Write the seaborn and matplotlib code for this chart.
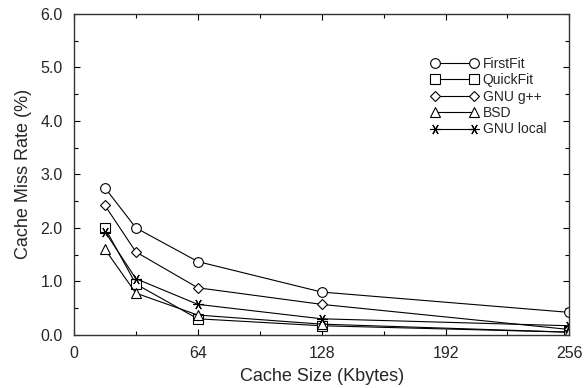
import matplotlib
matplotlib.use("Agg")
import matplotlib.pyplot as plt
import seaborn as sns
import pandas as pd
from matplotlib.ticker import MultipleLocator

cache_sizes = [16, 32, 64, 128, 256]
series_names = ["FirstFit", "QuickFit", "GNU g++", "BSD", "GNU local"]
firstfit = [2.75, 2.00, 1.37, 0.80, 0.42]
quickfit = [2.00, 0.95, 0.30, 0.17, 0.05]
gnu_gpp = [2.42, 1.55, 0.88, 0.57, 0.10]
bsd = [1.60, 0.78, 0.37, 0.20, 0.05]
gnu_local = [1.93, 1.05, 0.57, 0.30, 0.17]
x_ticks = [0, 64, 128, 192, 256]
y_ticks = [0.0, 1.0, 2.0, 3.0, 4.0, 5.0, 6.0]

values = [firstfit, quickfit, gnu_gpp, bsd, gnu_local]
markers = ["o", "s", "D", "^", (6, 2, 90)]
msizes = [7, 6.5, 5.5, 7, 7.5]

rows = []
for name, vals in zip(series_names, values):
    for xv, yv in zip(cache_sizes, vals):
        rows.append({"size": xv, "rate": yv, "alloc": name})
df = pd.DataFrame(rows)

sns.set_style("ticks")
plt.rcParams["font.family"] = ["Liberation Sans", "DejaVu Sans"]

fig = plt.figure(figsize=(5.87, 3.88), dpi=100)
ax = fig.add_axes([0.126, 0.137, 0.844, 0.827])

for name, mk, ms in zip(series_names, markers, msizes):
    sub = df[df["alloc"] == name]
    sns.lineplot(data=sub, x="size", y="rate", ax=ax, color="black",
                 marker=mk, markersize=ms, markerfacecolor="white",
                 markeredgecolor="black", markeredgewidth=0.8,
                 linewidth=0.8, label=name)

ax.set_xlim(0, 256)
ax.set_ylim(0, 6)
ax.set_xticks(x_ticks)
ax.set_xticklabels([str(t) for t in x_ticks])
ax.set_yticks(y_ticks)
ax.set_yticklabels([f"{t:.1f}" for t in y_ticks])
ax.xaxis.set_minor_locator(MultipleLocator(32))
ax.yaxis.set_minor_locator(MultipleLocator(0.5))
ax.tick_params(which="both", direction="in", top=True, right=True,
               labelsize=11.5, color="black", width=0.8)
ax.tick_params(which="major", length=4)
ax.tick_params(which="minor", length=3)
ax.tick_params(axis="x", which="major", pad=8)
ax.tick_params(axis="y", which="major", pad=8)
for s in ax.spines.values():
    s.set_visible(True)
    s.set_color("#333333")
    s.set_linewidth(1.0)

ax.set_xlabel("Cache Size (Kbytes)", fontsize=13, labelpad=5)
ax.set_ylabel("Cache Miss Rate (%)", fontsize=13, labelpad=6)

leg = ax.legend(loc="upper left", bbox_to_anchor=(0.695, 0.905), frameon=False,
                numpoints=2, handlelength=3.4, handletextpad=0.35,
                labelspacing=0.17, fontsize=10)

fig.savefig("out.png", dpi=100)
